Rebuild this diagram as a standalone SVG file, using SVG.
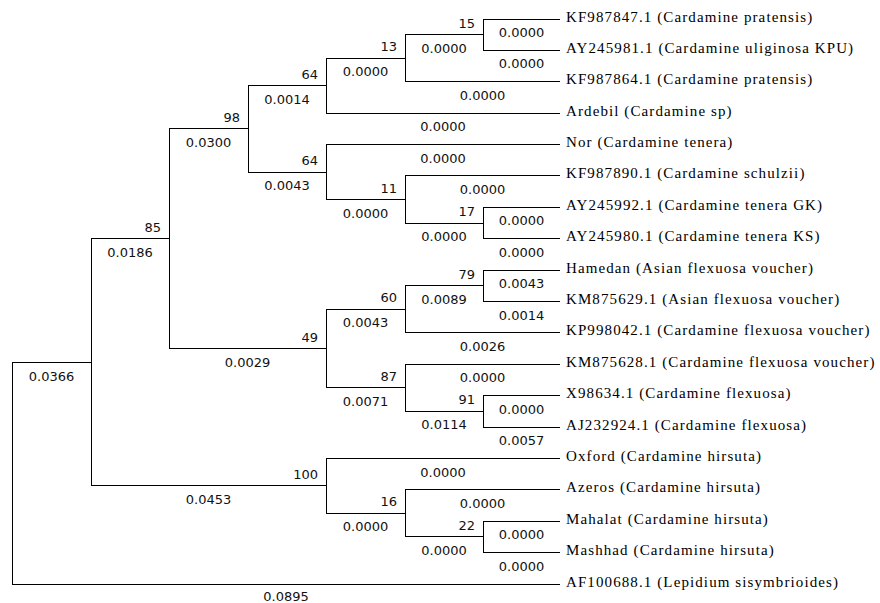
<svg xmlns="http://www.w3.org/2000/svg" width="880" height="603" viewBox="0 0 880 603">
<style>
.br{fill:none;stroke:#000;stroke-width:1;shape-rendering:crispEdges}
.leaf{font-family:"Liberation Serif","Times New Roman",serif;font-size:15px;letter-spacing:1.1px;fill:#000}
.bl{font-family:"DejaVu Sans",Verdana,sans-serif;font-size:13px;fill:#111;text-anchor:middle}
.bs{font-family:"DejaVu Sans",Verdana,sans-serif;font-size:13px;fill:#111;text-anchor:end}
</style>
<rect width="880" height="603" fill="#fff"/>
<g id="connectors">
<path class="br" d="M483 19H560M483 50.4H560M405 81.8H560M326 113.2H560M326 144.6H560M405 175.9H560M483 207.3H560M483 238.7H560M483 270.1H560M483 301.5H560M405 332.9H560M405 364.3H560M483 395.7H560M483 427.1H560M326 458.5H560M405 489.8H560M483 521.2H560M483 552.6H560M12 584H560"/>
<path class="br" d="M405 34.7H483M326 58.3H405M248 85.7H326M169 128.9H248M248 172H326M326 199.5H405M405 223H483M91 238.8H169M405 285.8H483M326 309.4H405M169 348.6H326M326 387.9H405M405 411.4H483M91 485.9H326M326 513.4H405M405 536.9H483M12 362.4H91"/>
<path class="br" d="M483 19V50.4M405 34.7V81.8M326 58.3V113.2M248 85.7V172M326 144.6V199.5M405 175.9V223M483 207.3V238.7M169 128.9V348.6M483 270.1V301.5M405 285.8V332.9M326 309.4V387.9M405 364.3V411.4M483 395.7V427.1M91 238.8V485.9M326 458.5V513.4M405 489.8V536.9M483 521.2V552.6M12 362.4V584"/>
<g id="branch-lengths">
<text class="bl" x="521.5" y="37">0.0000</text>
<text class="bl" x="521.5" y="68.4">0.0000</text>
<text class="bl" x="482.5" y="99.8">0.0000</text>
<text class="bl" x="443" y="131.2">0.0000</text>
<text class="bl" x="443" y="162.6">0.0000</text>
<text class="bl" x="482.5" y="193.9">0.0000</text>
<text class="bl" x="521.5" y="225.3">0.0000</text>
<text class="bl" x="521.5" y="256.7">0.0000</text>
<text class="bl" x="521.5" y="288.1">0.0043</text>
<text class="bl" x="521.5" y="319.5">0.0014</text>
<text class="bl" x="482.5" y="350.9">0.0026</text>
<text class="bl" x="482.5" y="382.3">0.0000</text>
<text class="bl" x="521.5" y="413.7">0.0000</text>
<text class="bl" x="521.5" y="445.1">0.0057</text>
<text class="bl" x="443" y="476.5">0.0000</text>
<text class="bl" x="482.5" y="507.8">0.0000</text>
<text class="bl" x="521.5" y="539.2">0.0000</text>
<text class="bl" x="521.5" y="570.6">0.0000</text>
<text class="bl" x="286" y="601">0.0895</text>
<text class="bl" x="444" y="52.7">0.0000</text>
<text class="bl" x="365.5" y="76.3">0.0000</text>
<text class="bl" x="287" y="103.7">0.0014</text>
<text class="bl" x="208.5" y="146.9">0.0300</text>
<text class="bl" x="287" y="190">0.0043</text>
<text class="bl" x="365.5" y="217.5">0.0000</text>
<text class="bl" x="444" y="241">0.0000</text>
<text class="bl" x="130" y="256.8">0.0186</text>
<text class="bl" x="444" y="303.8">0.0089</text>
<text class="bl" x="365.5" y="327.4">0.0043</text>
<text class="bl" x="247.5" y="366.6">0.0029</text>
<text class="bl" x="365.5" y="405.9">0.0071</text>
<text class="bl" x="444" y="429.4">0.0114</text>
<text class="bl" x="208.5" y="503.9">0.0453</text>
<text class="bl" x="365.5" y="531.4">0.0000</text>
<text class="bl" x="444" y="554.9">0.0000</text>
<text class="bl" x="51.5" y="381.4">0.0366</text>
</g>
</g>
<g id="node-15"><text class="bs" x="475" y="27.7">15</text></g>
<g id="node-13"><text class="bs" x="397" y="51.3">13</text></g>
<g id="node-64a"><text class="bs" x="318" y="78.7">64</text></g>
<g id="node-98"><text class="bs" x="240" y="121.9">98</text></g>
<g id="node-64b"><text class="bs" x="318" y="165">64</text></g>
<g id="node-11"><text class="bs" x="397" y="192.5">11</text></g>
<g id="node-17"><text class="bs" x="475" y="216">17</text></g>
<g id="node-85"><text class="bs" x="161" y="231.8">85</text></g>
<g id="node-79"><text class="bs" x="475" y="278.8">79</text></g>
<g id="node-60"><text class="bs" x="397" y="302.4">60</text></g>
<g id="node-49"><text class="bs" x="318" y="341.6">49</text></g>
<g id="node-87"><text class="bs" x="397" y="380.9">87</text></g>
<g id="node-91"><text class="bs" x="475" y="404.4">91</text></g>
<g id="node-100"><text class="bs" x="318" y="478.9">100</text></g>
<g id="node-16"><text class="bs" x="397" y="506.4">16</text></g>
<g id="node-22"><text class="bs" x="475" y="529.9">22</text></g>
<g id="leaf-KF987847"><text class="leaf" x="566" y="21.5">KF987847.1 (Cardamine pratensis)</text></g>
<g id="leaf-AY245981"><text class="leaf" x="566" y="52.9">AY245981.1 (Cardamine uliginosa KPU)</text></g>
<g id="leaf-KF987864"><text class="leaf" x="566" y="84.3">KF987864.1 (Cardamine pratensis)</text></g>
<g id="leaf-Ardebil"><text class="leaf" x="566" y="115.7">Ardebil (Cardamine sp)</text></g>
<g id="leaf-Nor"><text class="leaf" x="566" y="147.1">Nor (Cardamine tenera)</text></g>
<g id="leaf-KF987890"><text class="leaf" x="566" y="178.4">KF987890.1 (Cardamine schulzii)</text></g>
<g id="leaf-AY245992"><text class="leaf" x="566" y="209.8">AY245992.1 (Cardamine tenera GK)</text></g>
<g id="leaf-AY245980"><text class="leaf" x="566" y="241.2">AY245980.1 (Cardamine tenera KS)</text></g>
<g id="leaf-Hamedan"><text class="leaf" x="566" y="272.6">Hamedan (Asian flexuosa voucher)</text></g>
<g id="leaf-KM875629"><text class="leaf" x="566" y="304">KM875629.1 (Asian flexuosa voucher)</text></g>
<g id="leaf-KP998042"><text class="leaf" x="566" y="335.4">KP998042.1 (Cardamine flexuosa voucher)</text></g>
<g id="leaf-KM875628"><text class="leaf" x="566" y="366.8">KM875628.1 (Cardamine flexuosa voucher)</text></g>
<g id="leaf-X98634"><text class="leaf" x="566" y="398.2">X98634.1 (Cardamine flexuosa)</text></g>
<g id="leaf-AJ232924"><text class="leaf" x="566" y="429.6">AJ232924.1 (Cardamine flexuosa)</text></g>
<g id="leaf-Oxford"><text class="leaf" x="566" y="461">Oxford (Cardamine hirsuta)</text></g>
<g id="leaf-Azeros"><text class="leaf" x="566" y="492.3">Azeros (Cardamine hirsuta)</text></g>
<g id="leaf-Mahalat"><text class="leaf" x="566" y="523.7">Mahalat (Cardamine hirsuta)</text></g>
<g id="leaf-Mashhad"><text class="leaf" x="566" y="555.1">Mashhad (Cardamine hirsuta)</text></g>
<g id="leaf-AF100688"><text class="leaf" x="566" y="586.5">AF100688.1 (Lepidium sisymbrioides)</text></g>
</svg>
